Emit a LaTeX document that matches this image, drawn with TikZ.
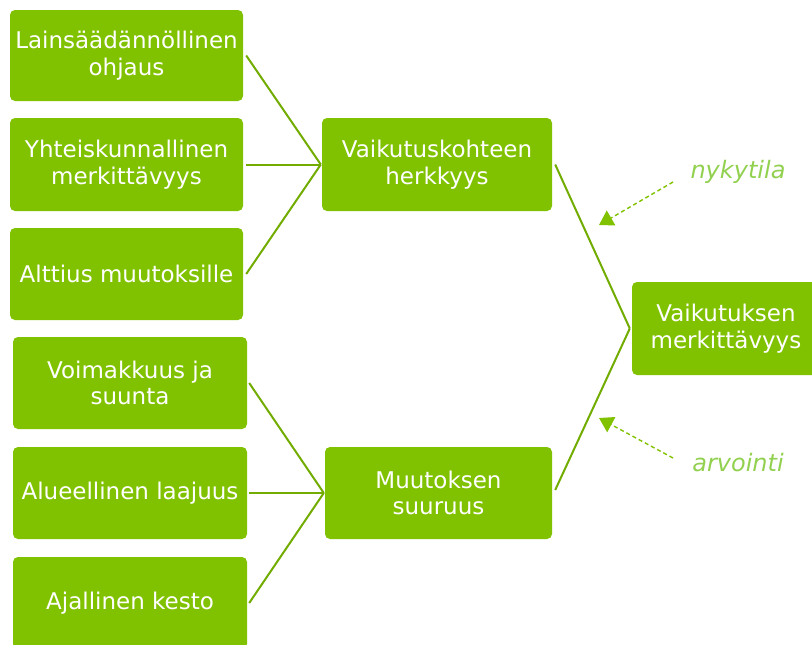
\documentclass[tikz,border=0pt]{standalone}
\usepackage{fontspec}
\setmainfont{DejaVu Sans}
\usetikzlibrary{arrows.meta,calc}
\definecolor{boxgreen}{HTML}{80C200}
\definecolor{linegreen}{HTML}{72AC00}
\definecolor{lightgreen}{HTML}{92D050}
\definecolor{arrowgreen}{HTML}{80C200}
\tikzset{
  box/.style={fill=boxgreen, rounded corners=5pt, text=white, align=center, inner sep=0pt,
    font=\fontsize{23}{26.5}\selectfont},
  conn/.style={draw=linegreen, line width=2pt},
  note/.style={text=lightgreen, font=\fontsize{24}{28}\selectfont\itshape},
  dasharrow/.style={draw=arrowgreen, line width=1.4pt, dash pattern=on 4pt off 3pt,
    -{Triangle[width=17pt,length=14pt]}}
}
\begin{document}
\begin{tikzpicture}[x=1pt,y=-1pt]
\useasboundingbox (0,0) rectangle (812,645);
\clip (0,0) rectangle (812,645);
% left top group
\node[box, minimum width=233pt, minimum height=91pt] (b1) at (126.5,55.5) {Lainsäädännöllinen\\ohjaus};
\node[box, minimum width=233pt, minimum height=93pt] (b2) at (126.5,164.5) {Yhteiskunnallinen\\merkittävyys};
\node[box, minimum width=233pt, minimum height=92pt] (b3) at (126.5,274) {Alttius muutoksille};
\node[box, minimum width=230pt, minimum height=93pt] (m1) at (437,164.5) {Vaikutuskohteen\\herkkyys};
% left bottom group
\node[box, minimum width=234pt, minimum height=92pt] (b4) at (130,383) {Voimakkuus ja\\suunta};
\node[box, minimum width=234pt, minimum height=92pt] (b5) at (130,493) {Alueellinen laajuus};
\node[box, minimum width=234pt, minimum height=92pt] (b6) at (130,603) {Ajallinen kesto};
\node[box, minimum width=227pt, minimum height=92pt] (m2) at (438.5,493) {Muutoksen\\suuruus};
% right
\node[box, minimum width=188pt, minimum height=93pt] (r) at (726,328.5) {Vaikutuksen\\merkittävyys};
% junctions
\coordinate (j1) at ($(m1.west)+(-1,0)$);
\coordinate (j2) at ($(m2.west)+(-1,0)$);
\coordinate (j3) at ($(r.west)+(-2,0)$);
\draw[conn] ($(b1.east)+(3,0)$) -- (j1);
\draw[conn] ($(b2.east)+(3,0)$) -- (j1);
\draw[conn] ($(b3.east)+(3,0)$) -- (j1);
\draw[conn] ($(b4.east)+(2,0)$) -- (j2);
\draw[conn] ($(b5.east)+(2,0)$) -- (j2);
\draw[conn] ($(b6.east)+(2,0)$) -- (j2);
\draw[conn] ($(m1.east)+(3,0)$) -- (j3);
\draw[conn] ($(m2.east)+(3,-3)$) -- (j3);
% notes
\node[note] (n1) at (738,172) {nykytila};
\node[note] (n2) at (738,463) {arvointi};
\coordinate (a1s) at (673,182);
\coordinate (a1e) at (599,225);
\coordinate (a2s) at (673,458);
\coordinate (a2e) at (599,418);
\draw[dasharrow] (a1s) -- (a1e);
\draw[dasharrow] (a2s) -- (a2e);
\end{tikzpicture}
\end{document}
